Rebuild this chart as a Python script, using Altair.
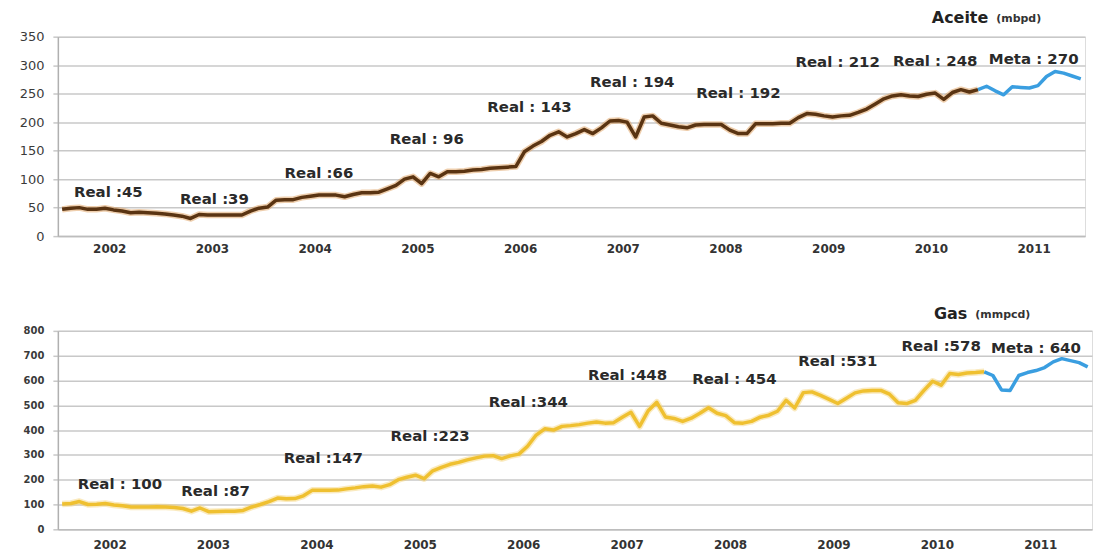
import altair as alt
import pandas as pd

anos = ["2002", "2003", "2004", "2005", "2006", "2007", "2008", "2009", "2010", "2011"]

# Monthly production, Jan 2002 .. Dec 2011 (last 12 months = Meta)
aceite = [47, 49, 50, 47, 47, 49, 46, 44, 41, 42, 41, 40,
          39, 37, 35, 31, 38, 37, 37, 37, 37, 37, 44, 49,
          51, 63, 64, 64, 68, 70, 72, 72, 72, 69, 73, 76,
          76, 77, 83, 89, 100, 104, 92, 110, 104, 113, 113, 114,
          116, 117, 119, 120, 121, 122, 148, 158, 166, 177, 183, 174,
          180, 187, 180, 190, 202, 203, 200, 174, 209, 211, 198, 195,
          192, 190, 195, 196, 196, 196, 186, 180, 180, 197, 197, 197,
          198, 198, 208, 215, 214, 211, 209, 211, 212, 217, 223, 232,
          241, 246, 248, 246, 245, 249, 251, 240, 252, 257, 253, 257,
          263, 255, 248, 262, 261, 260, 264, 280, 289, 286, 281, 276]

gas = [102, 104, 112, 100, 101, 104, 98, 95, 90, 90, 90, 91,
       90, 88, 84, 73, 86, 71, 72, 73, 73, 76, 90, 100,
       112, 126, 123, 124, 135, 157, 157, 157, 158, 163, 167, 172,
       175, 170, 180, 200, 210, 218, 204, 236, 250, 262, 270, 280,
       288, 295, 297, 285, 296, 303, 335, 380, 405, 400, 415, 418,
       422, 428, 433, 428, 430, 452, 472, 415, 478, 512, 453, 447,
       435, 448, 468, 490, 468, 458, 430, 428, 435, 452, 460, 476,
       520, 489, 551, 554, 540, 524, 507, 528, 550, 558, 560, 560,
       545, 510, 507, 520, 560, 597, 581, 628, 624, 630, 632, 635,
       620, 562, 560, 620, 632, 640, 652, 675, 688, 680, 672, 655]

n_real = 108  # months of real data (2002-2010)

aceite_labels = ["Real :45", "Real :39", "Real :66", "Real : 96", "Real : 143",
                 "Real : 194", "Real : 192", "Real : 212", "Real : 248", "Meta : 270"]
aceite_lab_mes = [5.9, 18.3, 30.5, 43.1, 55.1, 67.1, 79.5, 91.1, 102.5, 114.0]
aceite_lab_val = [77, 65, 110, 171, 226, 271, 252, 306, 308, 310]

gas_labels = ["Real : 100", "Real :87", "Real :147", "Real :223", "Real :344",
              "Real :448", "Real : 454", "Real :531", "Real :578", "Meta : 640"]
gas_lab_mes = [7.2, 18.3, 30.8, 43.2, 54.6, 66.1, 78.5, 90.5, 102.5, 113.5]
gas_lab_val = [184, 156, 289, 378, 515, 624, 604, 680, 737, 729]

FONT = "DejaVu Sans"
label_expr = "[" + ",".join("'%s'" % a for a in anos) + "][floor(datum.value / 12)]"


def panel(vals, labels, lab_x, lab_y, ymax, ystep, real_color, glow_color,
          w, h, title, unit, title_x, title_y, title_size, ylab_size, ylab_bold, xpad):
    real = pd.DataFrame({"mes": [i + 0.5 for i in range(n_real)], "v": vals[:n_real]})
    meta = pd.DataFrame({"mes": [i + 0.5 for i in range(n_real - 1, len(vals))],
                         "v": vals[n_real - 1:]})
    labs = pd.DataFrame({"t": labels, "mes": lab_x, "v": lab_y})

    xs = alt.X("mes:Q", scale=alt.Scale(domain=[0, 120], nice=False, zero=False),
               axis=alt.Axis(values=[6 + 12 * i for i in range(len(anos))],
                             labelExpr=label_expr, title=None, grid=False,
                             ticks=False, domainColor="#bdbdbd", domainWidth=1.5,
                             labelFont=FONT, labelFontWeight="bold", labelFontSize=12,
                             labelColor="#333333", labelPadding=xpad,
                             labelOverlap=False))
    ys = alt.Y("v:Q", scale=alt.Scale(domain=[0, ymax], nice=False, zero=True),
               axis=alt.Axis(values=list(range(0, ymax + 1, ystep)), title=None,
                             grid=True, gridColor="#c8c8c8", gridWidth=1.5,
                             tickSize=5, tickColor="#c8c8c8", tickWidth=1.5,
                             domainColor="#b0b0b0", domainWidth=1.5,
                             labelFont=FONT, labelFontSize=ylab_size,
                             labelFontWeight="bold" if ylab_bold else "normal",
                             labelColor="#3a3a3a", labelPadding=9,
                             labelOverlap=False, labelFlush=False))

    glow = alt.Chart(real).mark_line(color=glow_color, strokeWidth=6.5, opacity=0.45,
                                     strokeJoin="round").encode(x=xs, y=ys)
    line_r = alt.Chart(real).mark_line(color=real_color, strokeWidth=3.5,
                                       strokeJoin="round").encode(x=xs, y=ys)
    line_m = alt.Chart(meta).mark_line(color="#3a9ee0", strokeWidth=3.5,
                                       strokeJoin="round").encode(x=xs, y=ys)
    txt = alt.Chart(labs).mark_text(font=FONT, fontWeight="bold", fontSize=15,
                                    color="#2a2a2a", align="center",
                                    baseline="middle").encode(x=xs, y=ys, text="t:N")
    t1 = alt.Chart(pd.DataFrame({"t": [title]})).mark_text(
        font=FONT, fontSize=title_size, fontWeight="bold", color="#222222", align="right",
        baseline="middle").encode(text="t:N", x=alt.value(title_x), y=alt.value(title_y))
    t2 = alt.Chart(pd.DataFrame({"t": [unit]})).mark_text(
        font=FONT, fontSize=11, fontWeight="bold", color="#333333", align="left",
        baseline="middle").encode(text="t:N", x=alt.value(title_x + 8),
                                  y=alt.value(title_y + 1))
    return alt.layer(glow, line_r, line_m, txt, t1, t2).properties(width=w, height=h)


top = panel(aceite, aceite_labels, aceite_lab_mes, aceite_lab_val, 350, 50,
            "#5a3412", "#d9934a", 1030, 200, "Aceite", "(mbpd)", 933, -19, 16, 13, False, 7)
bottom = panel(gas, gas_labels, gas_lab_mes, gas_lab_val, 800, 100,
               "#efc030", "#f3d170", 1037, 199, "Gas", "(mmpcd)", 912, -17, 16, 10, True, 10)

chart = alt.vconcat(top, bottom, spacing=50).properties(
    padding={"left": 10, "top": 0, "right": 0, "bottom": 0}
).configure_view(stroke=None).configure(background="white")

chart.save("out.html", embed_options={"renderer": "svg", "actions": False})
